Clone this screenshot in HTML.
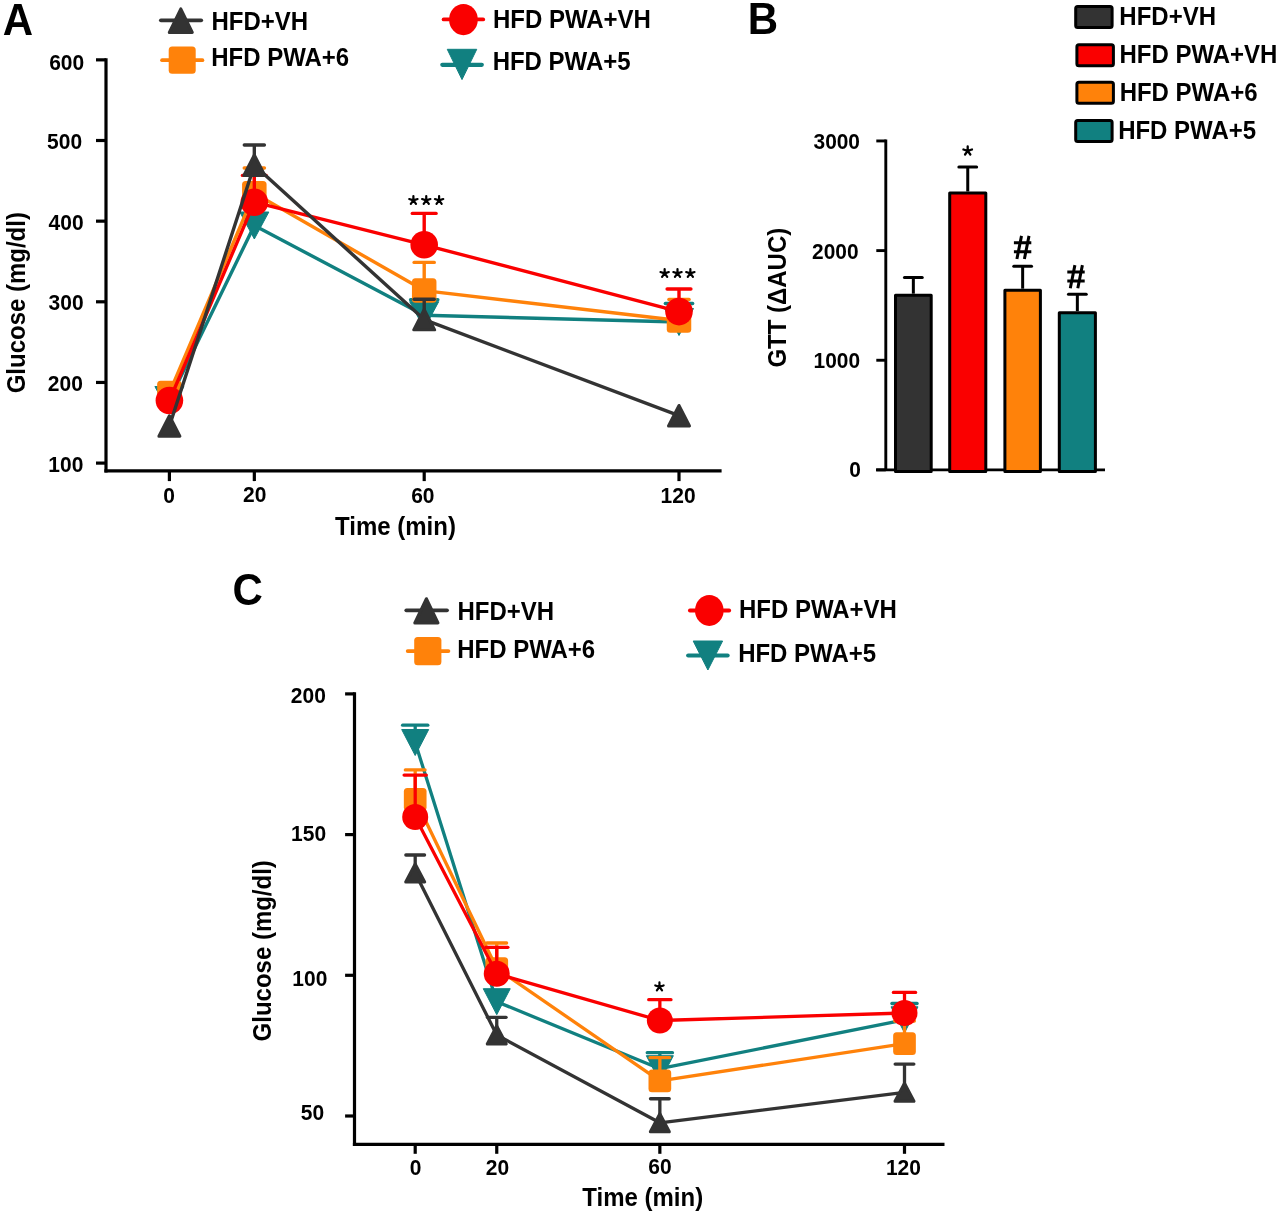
<!DOCTYPE html>
<html><head><meta charset="utf-8"><style>
html,body{margin:0;padding:0;background:#fff;width:1280px;height:1216px;overflow:hidden;}
svg{will-change:transform;display:block;font-family:"Liberation Sans", sans-serif;}
</style></head><body>
<svg width="1280" height="1216" viewBox="0 0 1280 1216" font-family='"Liberation Sans", sans-serif' font-weight="bold">
<rect width="1280" height="1216" fill="#ffffff"/>
<text transform="translate(2.80,34.60) scale(1.0,1.04)" font-size="42" text-anchor="start">A</text>
<text transform="translate(747.80,34.00) scale(1.0,1.04)" font-size="42" text-anchor="start">B</text>
<text transform="translate(232.50,605.20) scale(1.0,1.04)" font-size="42" text-anchor="start">C</text>
<line x1="106.00" y1="58.25" x2="106.00" y2="472.50" stroke="#000" stroke-width="3.2" stroke-linecap="butt"/>
<line x1="104.40" y1="470.90" x2="721.60" y2="470.90" stroke="#000" stroke-width="3.2" stroke-linecap="butt"/>
<line x1="96.00" y1="463.10" x2="106.00" y2="463.10" stroke="#000" stroke-width="3.2" stroke-linecap="butt"/>
<text transform="translate(83.30,471.70) scale(1.0,1.04)" font-size="21" text-anchor="end">100</text>
<line x1="96.00" y1="382.45" x2="106.00" y2="382.45" stroke="#000" stroke-width="3.2" stroke-linecap="butt"/>
<text transform="translate(82.80,390.75) scale(1.0,1.04)" font-size="21" text-anchor="end">200</text>
<line x1="96.00" y1="301.80" x2="106.00" y2="301.80" stroke="#000" stroke-width="3.2" stroke-linecap="butt"/>
<text transform="translate(83.60,309.50) scale(1.0,1.04)" font-size="21" text-anchor="end">300</text>
<line x1="96.00" y1="221.15" x2="106.00" y2="221.15" stroke="#000" stroke-width="3.2" stroke-linecap="butt"/>
<text transform="translate(83.60,229.85) scale(1.0,1.04)" font-size="21" text-anchor="end">400</text>
<line x1="96.00" y1="140.50" x2="106.00" y2="140.50" stroke="#000" stroke-width="3.2" stroke-linecap="butt"/>
<text transform="translate(82.10,149.00) scale(1.0,1.04)" font-size="21" text-anchor="end">500</text>
<line x1="96.00" y1="59.85" x2="106.00" y2="59.85" stroke="#000" stroke-width="3.2" stroke-linecap="butt"/>
<text transform="translate(84.20,70.15) scale(1.0,1.04)" font-size="21" text-anchor="end">600</text>
<line x1="169.40" y1="470.90" x2="169.40" y2="481.10" stroke="#000" stroke-width="3.2" stroke-linecap="butt"/>
<text transform="translate(169.10,503.30) scale(1.0,1.04)" font-size="21" text-anchor="middle">0</text>
<line x1="254.33" y1="470.90" x2="254.33" y2="481.10" stroke="#000" stroke-width="3.2" stroke-linecap="butt"/>
<text transform="translate(254.73,502.10) scale(1.0,1.04)" font-size="21" text-anchor="middle">20</text>
<line x1="424.20" y1="470.90" x2="424.20" y2="481.10" stroke="#000" stroke-width="3.2" stroke-linecap="butt"/>
<text transform="translate(422.80,503.10) scale(1.0,1.04)" font-size="21" text-anchor="middle">60</text>
<line x1="679.00" y1="470.90" x2="679.00" y2="481.10" stroke="#000" stroke-width="3.2" stroke-linecap="butt"/>
<text transform="translate(678.10,502.90) scale(1.0,1.04)" font-size="21" text-anchor="middle">120</text>
<text transform="translate(395.50,535.40) scale(1.0,1.04)" font-size="24" text-anchor="middle">Time (min)</text>
<text transform="translate(24.80,302.70) rotate(-90) scale(1.0,1.04)" font-size="24" text-anchor="middle">Glucose (mg/dl)</text>
<polyline points="169.40,400.00 254.33,225.50 424.20,315.20 679.00,322.00" fill="none" stroke="#118080" stroke-width="3.4" stroke-linejoin="round"/>
<line x1="424.20" y1="315.20" x2="424.20" y2="299.80" stroke="#118080" stroke-width="3.4" stroke-linecap="butt"/>
<line x1="410.55" y1="299.80" x2="437.85" y2="299.80" stroke="#118080" stroke-width="3.4" stroke-linecap="round"/>
<line x1="679.00" y1="322.00" x2="679.00" y2="303.50" stroke="#118080" stroke-width="3.4" stroke-linecap="butt"/>
<line x1="665.35" y1="303.50" x2="692.65" y2="303.50" stroke="#118080" stroke-width="3.4" stroke-linecap="round"/>
<polygon points="154.90,386.50 183.90,386.50 169.40,413.50" fill="#118080" stroke="#118080" stroke-width="1" stroke-linejoin="round"/>
<polygon points="239.83,212.00 268.83,212.00 254.33,239.00" fill="#118080" stroke="#118080" stroke-width="1" stroke-linejoin="round"/>
<polygon points="409.70,301.70 438.70,301.70 424.20,328.70" fill="#118080" stroke="#118080" stroke-width="1" stroke-linejoin="round"/>
<polygon points="664.50,308.50 693.50,308.50 679.00,335.50" fill="#118080" stroke="#118080" stroke-width="1" stroke-linejoin="round"/>
<polyline points="169.40,393.00 254.33,193.30 424.20,290.60 679.00,320.50" fill="none" stroke="#FF820A" stroke-width="3.4" stroke-linejoin="round"/>
<line x1="254.33" y1="193.30" x2="254.33" y2="168.00" stroke="#FF820A" stroke-width="3.4" stroke-linecap="butt"/>
<line x1="244.23" y1="168.00" x2="264.43" y2="168.00" stroke="#FF820A" stroke-width="3.4" stroke-linecap="round"/>
<line x1="424.20" y1="290.60" x2="424.20" y2="262.40" stroke="#FF820A" stroke-width="3.4" stroke-linecap="butt"/>
<line x1="414.10" y1="262.40" x2="434.30" y2="262.40" stroke="#FF820A" stroke-width="3.4" stroke-linecap="round"/>
<line x1="679.00" y1="320.50" x2="679.00" y2="299.50" stroke="#FF820A" stroke-width="3.4" stroke-linecap="butt"/>
<line x1="668.90" y1="299.50" x2="689.10" y2="299.50" stroke="#FF820A" stroke-width="3.4" stroke-linecap="round"/>
<rect x="157.15" y="380.75" width="24.50" height="24.50" rx="3.5" fill="#FF820A"/>
<rect x="242.08" y="181.05" width="24.50" height="24.50" rx="3.5" fill="#FF820A"/>
<rect x="411.95" y="278.35" width="24.50" height="24.50" rx="3.5" fill="#FF820A"/>
<rect x="666.75" y="308.25" width="24.50" height="24.50" rx="3.5" fill="#FF820A"/>
<polyline points="169.40,400.50 254.33,202.20 424.20,244.80 679.00,311.60" fill="none" stroke="#FA0000" stroke-width="3.4" stroke-linejoin="round"/>
<line x1="254.33" y1="202.20" x2="254.33" y2="175.40" stroke="#FA0000" stroke-width="3.4" stroke-linecap="butt"/>
<line x1="242.43" y1="175.40" x2="266.23" y2="175.40" stroke="#FA0000" stroke-width="3.4" stroke-linecap="round"/>
<line x1="424.20" y1="244.80" x2="424.20" y2="213.40" stroke="#FA0000" stroke-width="3.4" stroke-linecap="butt"/>
<line x1="412.30" y1="213.40" x2="436.10" y2="213.40" stroke="#FA0000" stroke-width="3.4" stroke-linecap="round"/>
<line x1="679.00" y1="311.60" x2="679.00" y2="289.00" stroke="#FA0000" stroke-width="3.4" stroke-linecap="butt"/>
<line x1="667.10" y1="289.00" x2="690.90" y2="289.00" stroke="#FA0000" stroke-width="3.4" stroke-linecap="round"/>
<ellipse cx="169.40" cy="400.50" rx="13.80" ry="13.80" fill="#FA0000"/>
<ellipse cx="254.33" cy="202.20" rx="13.80" ry="13.80" fill="#FA0000"/>
<ellipse cx="424.20" cy="244.80" rx="13.80" ry="13.80" fill="#FA0000"/>
<ellipse cx="679.00" cy="311.60" rx="13.80" ry="13.80" fill="#FA0000"/>
<polyline points="169.40,426.00 254.33,165.30 424.20,319.60 679.00,415.70" fill="none" stroke="#333333" stroke-width="3.4" stroke-linejoin="round"/>
<line x1="254.33" y1="165.30" x2="254.33" y2="145.00" stroke="#333333" stroke-width="3.4" stroke-linecap="butt"/>
<line x1="244.28" y1="145.00" x2="264.38" y2="145.00" stroke="#333333" stroke-width="3.4" stroke-linecap="round"/>
<line x1="424.20" y1="319.60" x2="424.20" y2="299.20" stroke="#333333" stroke-width="3.4" stroke-linecap="butt"/>
<line x1="414.15" y1="299.20" x2="434.25" y2="299.20" stroke="#333333" stroke-width="3.4" stroke-linecap="round"/>
<polygon points="169.40,415.75 179.90,436.25 158.90,436.25" fill="#333333" stroke="#333333" stroke-width="3" stroke-linejoin="round"/>
<polygon points="254.33,155.05 264.83,175.55 243.83,175.55" fill="#333333" stroke="#333333" stroke-width="3" stroke-linejoin="round"/>
<polygon points="424.20,309.35 434.70,329.85 413.70,329.85" fill="#333333" stroke="#333333" stroke-width="3" stroke-linejoin="round"/>
<polygon points="679.00,405.45 689.50,425.95 668.50,425.95" fill="#333333" stroke="#333333" stroke-width="3" stroke-linejoin="round"/>
<path d="M413.40,200.40L413.40,196.00M413.40,200.40L417.58,199.04M413.40,200.40L409.22,199.04M413.40,200.40L415.99,203.96M413.40,200.40L410.81,203.96" stroke="#000" stroke-width="2.2" stroke-linecap="round" fill="none"/>
<path d="M426.25,200.40L426.25,196.00M426.25,200.40L430.43,199.04M426.25,200.40L422.07,199.04M426.25,200.40L428.84,203.96M426.25,200.40L423.66,203.96" stroke="#000" stroke-width="2.2" stroke-linecap="round" fill="none"/>
<path d="M439.10,200.40L439.10,196.00M439.10,200.40L443.28,199.04M439.10,200.40L434.92,199.04M439.10,200.40L441.69,203.96M439.10,200.40L436.51,203.96" stroke="#000" stroke-width="2.2" stroke-linecap="round" fill="none"/>
<path d="M664.65,273.40L664.65,269.00M664.65,273.40L668.83,272.04M664.65,273.40L660.47,272.04M664.65,273.40L667.24,276.96M664.65,273.40L662.06,276.96" stroke="#000" stroke-width="2.2" stroke-linecap="round" fill="none"/>
<path d="M677.50,273.40L677.50,269.00M677.50,273.40L681.68,272.04M677.50,273.40L673.32,272.04M677.50,273.40L680.09,276.96M677.50,273.40L674.91,276.96" stroke="#000" stroke-width="2.2" stroke-linecap="round" fill="none"/>
<path d="M690.35,273.40L690.35,269.00M690.35,273.40L694.53,272.04M690.35,273.40L686.17,272.04M690.35,273.40L692.94,276.96M690.35,273.40L687.76,276.96" stroke="#000" stroke-width="2.2" stroke-linecap="round" fill="none"/>
<line x1="160.90" y1="20.30" x2="201.20" y2="20.30" stroke="#333333" stroke-width="3.8" stroke-linecap="round"/>
<polygon points="180.80,8.90 192.30,32.50 169.30,32.50" fill="#333333" stroke="#333333" stroke-width="3" stroke-linejoin="round"/>
<line x1="162.10" y1="60.20" x2="202.40" y2="60.20" stroke="#FF820A" stroke-width="3.8" stroke-linecap="round"/>
<rect x="168.70" y="46.55" width="27.00" height="27.30" rx="3.5" fill="#FF820A"/>
<line x1="443.60" y1="19.40" x2="483.20" y2="19.40" stroke="#FA0000" stroke-width="3.8" stroke-linecap="round"/>
<ellipse cx="463.45" cy="19.55" rx="14.35" ry="15.65" fill="#FA0000"/>
<line x1="442.30" y1="64.80" x2="481.80" y2="64.80" stroke="#118080" stroke-width="4.2" stroke-linecap="round"/>
<polygon points="447.25,49.30 476.75,49.30 462.00,79.60" fill="#118080" stroke="#118080" stroke-width="1" stroke-linejoin="round"/>
<text transform="translate(211.55,30.00) scale(1.0,1.04)" font-size="24" text-anchor="start">HFD+VH</text>
<text transform="translate(211.25,66.25) scale(1.0,1.04)" font-size="24" text-anchor="start">HFD PWA+6</text>
<text transform="translate(492.95,28.30) scale(1.0,1.04)" font-size="24" text-anchor="start">HFD PWA+VH</text>
<text transform="translate(492.65,70.10) scale(1.0,1.04)" font-size="24" text-anchor="start">HFD PWA+5</text>
<line x1="885.80" y1="139.50" x2="885.80" y2="469.90" stroke="#000" stroke-width="2.9" stroke-linecap="butt"/>
<line x1="876.00" y1="469.90" x2="1105.00" y2="469.90" stroke="#000" stroke-width="2.9" stroke-linecap="butt"/>
<line x1="876.30" y1="469.90" x2="885.80" y2="469.90" stroke="#000" stroke-width="2.9" stroke-linecap="butt"/>
<text transform="translate(860.90,476.60) scale(1.0,1.04)" font-size="20.9" text-anchor="end">0</text>
<line x1="876.30" y1="360.25" x2="885.80" y2="360.25" stroke="#000" stroke-width="2.9" stroke-linecap="butt"/>
<text transform="translate(860.10,367.95) scale(1.0,1.04)" font-size="20.9" text-anchor="end">1000</text>
<line x1="876.30" y1="250.60" x2="885.80" y2="250.60" stroke="#000" stroke-width="2.9" stroke-linecap="butt"/>
<text transform="translate(858.60,259.30) scale(1.0,1.04)" font-size="20.9" text-anchor="end">2000</text>
<line x1="876.30" y1="140.95" x2="885.80" y2="140.95" stroke="#000" stroke-width="2.9" stroke-linecap="butt"/>
<text transform="translate(860.00,148.85) scale(1.0,1.04)" font-size="20.9" text-anchor="end">3000</text>
<text transform="translate(786.40,297.70) rotate(-90) scale(1.0,1.04)" font-size="24" text-anchor="middle">GTT (&#916;AUC)</text>
<line x1="913.35" y1="293.70" x2="913.35" y2="277.60" stroke="#000" stroke-width="3.0" stroke-linecap="butt"/>
<line x1="904.45" y1="277.60" x2="922.25" y2="277.60" stroke="#000" stroke-width="3.0" stroke-linecap="round"/>
<rect x="895.50" y="295.20" width="35.70" height="176.20" fill="#333333" stroke="#000" stroke-width="3.0" stroke-linejoin="round"/>
<line x1="967.75" y1="191.50" x2="967.75" y2="167.00" stroke="#000" stroke-width="3.0" stroke-linecap="butt"/>
<line x1="958.85" y1="167.00" x2="976.65" y2="167.00" stroke="#000" stroke-width="3.0" stroke-linecap="round"/>
<rect x="949.70" y="193.00" width="36.10" height="278.40" fill="#FA0000" stroke="#000" stroke-width="3.0" stroke-linejoin="round"/>
<line x1="1022.65" y1="288.70" x2="1022.65" y2="266.30" stroke="#000" stroke-width="3.0" stroke-linecap="butt"/>
<line x1="1013.75" y1="266.30" x2="1031.55" y2="266.30" stroke="#000" stroke-width="3.0" stroke-linecap="round"/>
<rect x="1004.90" y="290.20" width="35.50" height="181.20" fill="#FF820A" stroke="#000" stroke-width="3.0" stroke-linejoin="round"/>
<line x1="1077.35" y1="311.20" x2="1077.35" y2="294.20" stroke="#000" stroke-width="3.0" stroke-linecap="butt"/>
<line x1="1068.45" y1="294.20" x2="1086.25" y2="294.20" stroke="#000" stroke-width="3.0" stroke-linecap="round"/>
<rect x="1059.30" y="312.70" width="36.10" height="158.70" fill="#118080" stroke="#000" stroke-width="3.0" stroke-linejoin="round"/>
<path d="M967.70,150.90L967.70,146.40M967.70,150.90L971.98,149.51M967.70,150.90L963.42,149.51M967.70,150.90L970.35,154.54M967.70,150.90L965.05,154.54" stroke="#000" stroke-width="2.3" stroke-linecap="round" fill="none"/>
<path d="M1021.50,235.90L1016.90,259.00M1029.00,235.90L1024.40,259.00M1013.90,242.80L1031.30,242.80M1013.90,251.70L1031.30,251.70" stroke="#000" stroke-width="3.0" stroke-linecap="butt" fill="none"/>
<path d="M1074.90,265.15L1070.30,288.25M1082.40,265.15L1077.80,288.25M1067.30,272.05L1084.70,272.05M1067.30,280.95L1084.70,280.95" stroke="#000" stroke-width="3.0" stroke-linecap="butt" fill="none"/>
<rect x="1075.70" y="6.40" width="36.40" height="21.10" rx="2" fill="#333333" stroke="#000" stroke-width="3"/>
<rect x="1076.90" y="44.70" width="36.50" height="21.00" rx="2" fill="#FA0000" stroke="#000" stroke-width="3"/>
<rect x="1076.90" y="82.30" width="36.50" height="21.00" rx="2" fill="#FF820A" stroke="#000" stroke-width="3"/>
<rect x="1075.70" y="120.50" width="36.40" height="21.00" rx="2" fill="#118080" stroke="#000" stroke-width="3"/>
<text transform="translate(1119.35,24.60) scale(1.0,1.04)" font-size="24" text-anchor="start">HFD+VH</text>
<text transform="translate(1119.45,62.90) scale(1.0,1.04)" font-size="24" text-anchor="start">HFD PWA+VH</text>
<text transform="translate(1119.65,100.90) scale(1.0,1.04)" font-size="24" text-anchor="start">HFD PWA+6</text>
<text transform="translate(1118.15,139.10) scale(1.0,1.04)" font-size="24" text-anchor="start">HFD PWA+5</text>
<line x1="354.50" y1="692.30" x2="354.50" y2="1145.90" stroke="#000" stroke-width="3.2" stroke-linecap="butt"/>
<line x1="352.90" y1="1144.30" x2="944.50" y2="1144.30" stroke="#000" stroke-width="3.2" stroke-linecap="butt"/>
<line x1="345.10" y1="1116.00" x2="354.50" y2="1116.00" stroke="#000" stroke-width="3.2" stroke-linecap="butt"/>
<text transform="translate(324.20,1120.00) scale(1.0,1.04)" font-size="21" text-anchor="end">50</text>
<line x1="345.10" y1="975.30" x2="354.50" y2="975.30" stroke="#000" stroke-width="3.2" stroke-linecap="butt"/>
<text transform="translate(327.30,985.50) scale(1.0,1.04)" font-size="21" text-anchor="end">100</text>
<line x1="345.10" y1="834.60" x2="354.50" y2="834.60" stroke="#000" stroke-width="3.2" stroke-linecap="butt"/>
<text transform="translate(326.10,841.00) scale(1.0,1.04)" font-size="21" text-anchor="end">150</text>
<line x1="345.10" y1="693.90" x2="354.50" y2="693.90" stroke="#000" stroke-width="3.2" stroke-linecap="butt"/>
<text transform="translate(325.80,702.90) scale(1.0,1.04)" font-size="21" text-anchor="end">200</text>
<line x1="415.20" y1="1144.30" x2="415.20" y2="1153.80" stroke="#000" stroke-width="3.2" stroke-linecap="butt"/>
<text transform="translate(415.60,1175.00) scale(1.0,1.04)" font-size="21" text-anchor="middle">0</text>
<line x1="496.75" y1="1144.30" x2="496.75" y2="1153.80" stroke="#000" stroke-width="3.2" stroke-linecap="butt"/>
<text transform="translate(497.45,1175.00) scale(1.0,1.04)" font-size="21" text-anchor="middle">20</text>
<line x1="659.85" y1="1144.30" x2="659.85" y2="1153.80" stroke="#000" stroke-width="3.2" stroke-linecap="butt"/>
<text transform="translate(659.95,1174.40) scale(1.0,1.04)" font-size="21" text-anchor="middle">60</text>
<line x1="904.50" y1="1144.30" x2="904.50" y2="1153.80" stroke="#000" stroke-width="3.2" stroke-linecap="butt"/>
<text transform="translate(903.40,1175.20) scale(1.0,1.04)" font-size="21" text-anchor="middle">120</text>
<text transform="translate(642.75,1206.00) scale(1.0,1.04)" font-size="24" text-anchor="middle">Time (min)</text>
<text transform="translate(270.50,950.80) rotate(-90) scale(1.0,1.04)" font-size="24" text-anchor="middle">Glucose (mg/dl)</text>
<polyline points="415.20,742.50 496.75,1001.70 659.85,1068.70 904.50,1019.80" fill="none" stroke="#118080" stroke-width="3.3" stroke-linejoin="round"/>
<line x1="415.20" y1="742.50" x2="415.20" y2="725.20" stroke="#118080" stroke-width="3.3" stroke-linecap="butt"/>
<line x1="402.60" y1="725.20" x2="427.80" y2="725.20" stroke="#118080" stroke-width="3.3" stroke-linecap="round"/>
<line x1="659.85" y1="1068.70" x2="659.85" y2="1052.70" stroke="#118080" stroke-width="3.3" stroke-linecap="butt"/>
<line x1="647.25" y1="1052.70" x2="672.45" y2="1052.70" stroke="#118080" stroke-width="3.3" stroke-linecap="round"/>
<line x1="904.50" y1="1019.80" x2="904.50" y2="1003.50" stroke="#118080" stroke-width="3.3" stroke-linecap="butt"/>
<line x1="891.90" y1="1003.50" x2="917.10" y2="1003.50" stroke="#118080" stroke-width="3.3" stroke-linecap="round"/>
<polygon points="401.70,729.50 428.70,729.50 415.20,755.50" fill="#118080" stroke="#118080" stroke-width="1" stroke-linejoin="round"/>
<polygon points="483.25,988.70 510.25,988.70 496.75,1014.70" fill="#118080" stroke="#118080" stroke-width="1" stroke-linejoin="round"/>
<polygon points="646.35,1055.70 673.35,1055.70 659.85,1081.70" fill="#118080" stroke="#118080" stroke-width="1" stroke-linejoin="round"/>
<polygon points="891.00,1006.80 918.00,1006.80 904.50,1032.80" fill="#118080" stroke="#118080" stroke-width="1" stroke-linejoin="round"/>
<polyline points="415.20,799.30 496.75,968.50 659.85,1080.90 904.50,1043.60" fill="none" stroke="#FF820A" stroke-width="3.3" stroke-linejoin="round"/>
<line x1="415.20" y1="799.30" x2="415.20" y2="769.90" stroke="#FF820A" stroke-width="3.3" stroke-linecap="butt"/>
<line x1="405.35" y1="769.90" x2="425.05" y2="769.90" stroke="#FF820A" stroke-width="3.3" stroke-linecap="round"/>
<line x1="496.75" y1="968.50" x2="496.75" y2="943.00" stroke="#FF820A" stroke-width="3.3" stroke-linecap="butt"/>
<line x1="486.90" y1="943.00" x2="506.60" y2="943.00" stroke="#FF820A" stroke-width="3.3" stroke-linecap="round"/>
<line x1="659.85" y1="1080.90" x2="659.85" y2="1057.70" stroke="#FF820A" stroke-width="3.3" stroke-linecap="butt"/>
<line x1="650.00" y1="1057.70" x2="669.70" y2="1057.70" stroke="#FF820A" stroke-width="3.3" stroke-linecap="round"/>
<line x1="904.50" y1="1043.60" x2="904.50" y2="1021.00" stroke="#FF820A" stroke-width="3.3" stroke-linecap="butt"/>
<line x1="894.65" y1="1021.00" x2="914.35" y2="1021.00" stroke="#FF820A" stroke-width="3.3" stroke-linecap="round"/>
<rect x="403.85" y="787.95" width="22.70" height="22.70" rx="3.5" fill="#FF820A"/>
<rect x="485.40" y="957.15" width="22.70" height="22.70" rx="3.5" fill="#FF820A"/>
<rect x="648.50" y="1069.55" width="22.70" height="22.70" rx="3.5" fill="#FF820A"/>
<rect x="893.15" y="1032.25" width="22.70" height="22.70" rx="3.5" fill="#FF820A"/>
<polyline points="415.20,817.00 496.75,973.80 659.85,1020.50 904.50,1013.00" fill="none" stroke="#FA0000" stroke-width="3.3" stroke-linejoin="round"/>
<line x1="415.20" y1="817.00" x2="415.20" y2="775.10" stroke="#FA0000" stroke-width="3.3" stroke-linecap="butt"/>
<line x1="404.10" y1="775.10" x2="426.30" y2="775.10" stroke="#FA0000" stroke-width="3.3" stroke-linecap="round"/>
<line x1="496.75" y1="973.80" x2="496.75" y2="947.30" stroke="#FA0000" stroke-width="3.3" stroke-linecap="butt"/>
<line x1="485.65" y1="947.30" x2="507.85" y2="947.30" stroke="#FA0000" stroke-width="3.3" stroke-linecap="round"/>
<line x1="659.85" y1="1020.50" x2="659.85" y2="999.70" stroke="#FA0000" stroke-width="3.3" stroke-linecap="butt"/>
<line x1="648.75" y1="999.70" x2="670.95" y2="999.70" stroke="#FA0000" stroke-width="3.3" stroke-linecap="round"/>
<line x1="904.50" y1="1013.00" x2="904.50" y2="992.40" stroke="#FA0000" stroke-width="3.3" stroke-linecap="butt"/>
<line x1="893.40" y1="992.40" x2="915.60" y2="992.40" stroke="#FA0000" stroke-width="3.3" stroke-linecap="round"/>
<ellipse cx="415.20" cy="817.00" rx="13.00" ry="13.00" fill="#FA0000"/>
<ellipse cx="496.75" cy="973.80" rx="13.00" ry="13.00" fill="#FA0000"/>
<ellipse cx="659.85" cy="1020.50" rx="13.00" ry="13.00" fill="#FA0000"/>
<ellipse cx="904.50" cy="1013.00" rx="13.00" ry="13.00" fill="#FA0000"/>
<polyline points="415.20,873.00 496.75,1035.00 659.85,1122.80 904.50,1092.30" fill="none" stroke="#333333" stroke-width="3.3" stroke-linejoin="round"/>
<line x1="415.20" y1="873.00" x2="415.20" y2="855.00" stroke="#333333" stroke-width="3.3" stroke-linecap="butt"/>
<line x1="405.85" y1="855.00" x2="424.55" y2="855.00" stroke="#333333" stroke-width="3.3" stroke-linecap="round"/>
<line x1="496.75" y1="1035.00" x2="496.75" y2="1017.30" stroke="#333333" stroke-width="3.3" stroke-linecap="butt"/>
<line x1="487.40" y1="1017.30" x2="506.10" y2="1017.30" stroke="#333333" stroke-width="3.3" stroke-linecap="round"/>
<line x1="659.85" y1="1122.80" x2="659.85" y2="1098.75" stroke="#333333" stroke-width="3.3" stroke-linecap="butt"/>
<line x1="650.50" y1="1098.75" x2="669.20" y2="1098.75" stroke="#333333" stroke-width="3.3" stroke-linecap="round"/>
<line x1="904.50" y1="1092.30" x2="904.50" y2="1064.10" stroke="#333333" stroke-width="3.3" stroke-linecap="butt"/>
<line x1="895.15" y1="1064.10" x2="913.85" y2="1064.10" stroke="#333333" stroke-width="3.3" stroke-linecap="round"/>
<polygon points="415.20,864.00 424.70,882.00 405.70,882.00" fill="#333333" stroke="#333333" stroke-width="3" stroke-linejoin="round"/>
<polygon points="496.75,1026.00 506.25,1044.00 487.25,1044.00" fill="#333333" stroke="#333333" stroke-width="3" stroke-linejoin="round"/>
<polygon points="659.85,1113.80 669.35,1131.80 650.35,1131.80" fill="#333333" stroke="#333333" stroke-width="3" stroke-linejoin="round"/>
<polygon points="904.50,1083.30 914.00,1101.30 895.00,1101.30" fill="#333333" stroke="#333333" stroke-width="3" stroke-linejoin="round"/>
<path d="M659.45,986.80L659.45,982.40M659.45,986.80L663.63,985.44M659.45,986.80L655.27,985.44M659.45,986.80L662.04,990.36M659.45,986.80L656.86,990.36" stroke="#000" stroke-width="2.2" stroke-linecap="round" fill="none"/>
<line x1="406.30" y1="610.30" x2="447.00" y2="610.30" stroke="#333333" stroke-width="3.8" stroke-linecap="round"/>
<polygon points="426.40,598.70 438.00,622.90 414.80,622.90" fill="#333333" stroke="#333333" stroke-width="3" stroke-linejoin="round"/>
<line x1="407.70" y1="651.10" x2="448.40" y2="651.10" stroke="#FF820A" stroke-width="3.8" stroke-linecap="round"/>
<rect x="414.20" y="637.00" width="27.20" height="28.20" rx="3.5" fill="#FF820A"/>
<line x1="689.90" y1="610.50" x2="729.20" y2="610.50" stroke="#FA0000" stroke-width="3.8" stroke-linecap="round"/>
<ellipse cx="709.30" cy="610.45" rx="14.30" ry="15.45" fill="#FA0000"/>
<line x1="688.20" y1="655.50" x2="727.60" y2="655.50" stroke="#118080" stroke-width="4.2" stroke-linecap="round"/>
<polygon points="693.20,641.00 722.60,641.00 707.90,670.00" fill="#118080" stroke="#118080" stroke-width="1" stroke-linejoin="round"/>
<text transform="translate(457.55,619.90) scale(1.0,1.04)" font-size="24" text-anchor="start">HFD+VH</text>
<text transform="translate(457.25,657.70) scale(1.0,1.04)" font-size="24" text-anchor="start">HFD PWA+6</text>
<text transform="translate(738.95,618.20) scale(1.0,1.04)" font-size="24" text-anchor="start">HFD PWA+VH</text>
<text transform="translate(738.15,662.20) scale(1.0,1.04)" font-size="24" text-anchor="start">HFD PWA+5</text>
</svg>
</body></html>
